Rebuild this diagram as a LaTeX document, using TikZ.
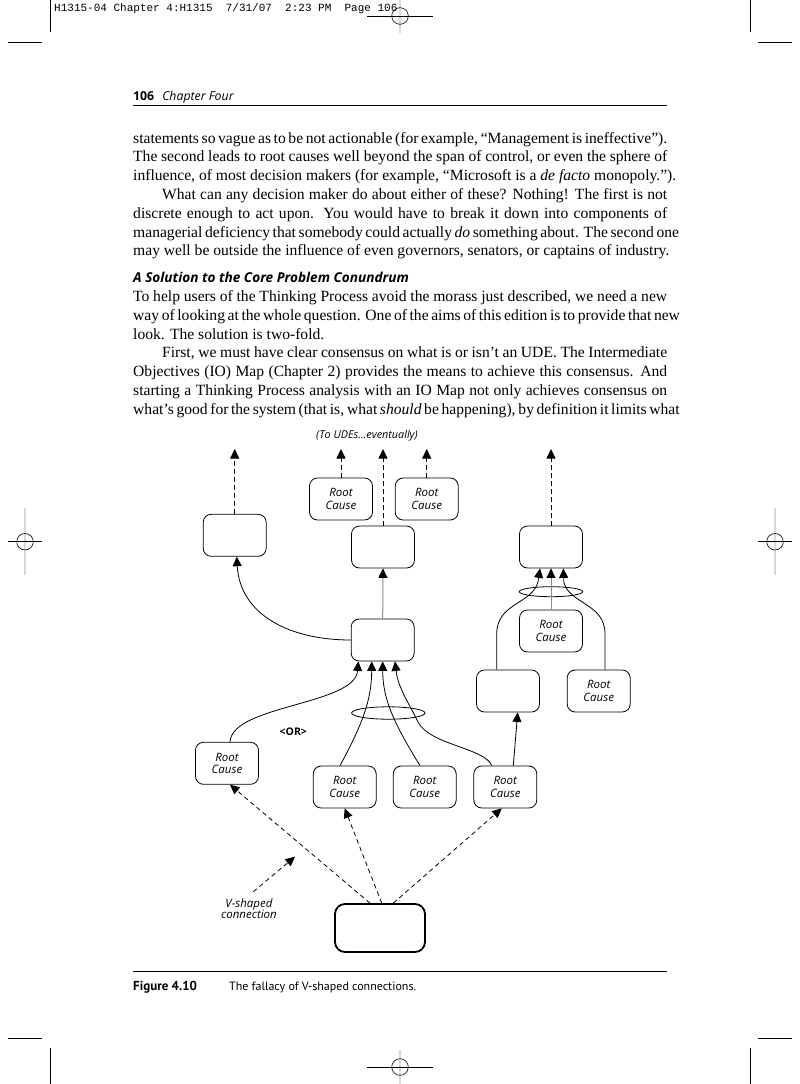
\documentclass[tikz,border=0pt]{standalone}
\usepackage{fontspec}
\setmainfont{Liberation Serif}
\newfontfamily\dsans{Open Sans}
\newfontfamily\capsans{PT Sans}
\newfontfamily\slugmono{Liberation Mono}
\usetikzlibrary{arrows.meta,calc,shapes.geometric}
\tikzset{
  >={Triangle[length=9.5pt,width=9pt]},
  box/.style={draw, rounded corners=8pt, minimum width=63pt, minimum height=42pt,
    line width=0.8pt, inner sep=0pt, align=center,
    font=\dsans\itshape\fontsize{11.5}{12.5}\selectfont},
  bigbox/.style={box, minimum width=90pt, minimum height=48pt, line width=1.8pt, rounded corners=10pt},
  andell/.style={draw, ellipse, line width=0.8pt, inner sep=0pt},
  conn/.style={line width=0.8pt},
  dconn/.style={line width=0.8pt, dash pattern=on 4.5pt off 3.5pt},
  gconn/.style={line width=1pt, draw=black!45},
  bodyline/.style={anchor=base west, inner sep=0pt, font=\fontsize{15.6}{18}\selectfont},
  crop/.style={line width=0.8pt},
  regline/.style={line width=1.6pt, draw=black!15},
  regmark/.style={line width=0.6pt},
}
\newcommand{\jline}[1]{\makebox[534pt][s]{#1}}
\newcommand{\jlineind}[1]{\makebox[505pt][s]{#1}}
\begin{document}
\begin{tikzpicture}[x=1pt,y=-1pt]
\useasboundingbox (0,0) rectangle (800,1084);
\fill[white] (0,0) rectangle (800,1084);

% ---- crop and registration marks ----
\draw[crop] (50,0) -- (50,32);
\draw[crop] (750,0) -- (750,32);
\draw[crop] (8,42) -- (42,42);
\draw[crop] (758,42) -- (792,42);
\draw[crop] (8,1038) -- (42,1038);
\draw[crop] (758,1038) -- (792,1038);
\draw[crop] (50,1048) -- (50,1084);
\draw[crop] (750,1048) -- (750,1084);
% registration
\draw[regline] (400,0) -- (400,33);
\draw[regmark] (367,16) -- (433,16);
\draw[regmark] (400,16) circle (8.3);
\draw[regline] (400,1050) -- (400,1084);
\draw[regmark] (367,1067) -- (433,1067);
\draw[regmark] (400,1067) circle (8.3);
\draw[regline] (25,508) -- (25,575);
\draw[regmark] (8,541.7) -- (42,541.7);
\draw[regmark] (25,541.7) circle (8.3);
\draw[regline] (775,508) -- (775,575);
\draw[regmark] (758,541.7) -- (792,541.7);
\draw[regmark] (775,541.7) circle (8.3);

% slug line
\node[anchor=base west, inner sep=0pt, font=\slugmono\fontsize{11}{12}\selectfont] (slug) at (54,12)
  {H1315-04 Chapter 4:H1315\ \ 7/31/07\ \ 2:23 PM\ \ Page 106};

% ---- running head ----
\node[anchor=base west, inner sep=0pt, font=\dsans\fontsize{12.3}{14}\selectfont] (rh) at (133,100)
  {\textbf{106}\hspace{8pt}\textit{Chapter Four}};
\draw[line width=0.9pt] (133,105) -- (667,105);

% ---- body text ----
\node[bodyline] (t1) at (133,143) {\jline{statements so vague as to be not actionable (for example, “Management is ineffective”).}};
\node[bodyline] (t2) at (133,161.8) {\jline{The second leads to root causes well beyond the span of control, or even the sphere of}};
\node[bodyline] (t3) at (133,180.6) {influence, of most decision makers (for example, “Microsoft is a \textit{de facto} monopoly.”).};
\node[bodyline] (t4) at (162,199.4) {\jlineind{What can any decision maker do about either of these? Nothing! The first is not}};
\node[bodyline] (t5) at (133,218.2) {\jline{discrete enough to act upon. You would have to break it down into components of}};
\node[bodyline] (t6) at (133,237) {\jline{managerial deficiency that somebody could actually \textit{do} something about. The second one}};
\node[bodyline] (t7) at (133,255.8) {may well be outside the influence of even governors, senators, or captains of industry.};
\node[anchor=base west, inner sep=0pt, font=\dsans\bfseries\itshape\fontsize{13.6}{15}\selectfont] (hd) at (133,282.6)
  {A Solution to the Core Problem Conundrum};
\node[bodyline] (t8) at (133,301.4) {\jline{To help users of the Thinking Process avoid the morass just described, we need a new}};
\node[bodyline] (t9) at (133,320.2) {\jline{way of looking at the whole question. One of the aims of this edition is to provide that new}};
\node[bodyline] (t10) at (133,339) {look. The solution is two-fold.};
\node[bodyline] (t11) at (162,357.8) {\jlineind{First, we must have clear consensus on what is or isn’t an UDE. The Intermediate}};
\node[bodyline] (t12) at (133,376.6) {\jline{Objectives (IO) Map (Chapter 2) provides the means to achieve this consensus. And}};
\node[bodyline] (t13) at (133,395.4) {\jline{starting a Thinking Process analysis with an IO Map not only achieves consensus on}};
\node[bodyline] (t14) at (133,414.2) {\jline{what’s good for the system (that is, what \textit{should} be happening), by definition it limits what}};

% ---- diagram ----
\node[font=\dsans\itshape\fontsize{10.8}{12}\selectfont, inner sep=0pt] (lbl) at (367,435.5) {(To UDEs...eventually)};

\node[box] (L1) at (234.7,535.3) {};
\node[box] (RC1) at (341,499) {Root\\Cause};
\node[box] (RC2) at (426.7,499) {Root\\Cause};
\node[box] (M1) at (383,547) {};
\node[box] (R1) at (551,547) {};
\node[andell, minimum width=63.4pt, minimum height=10pt] (E1) at (551,591.7) {};
\node[box] (RC3) at (551,631) {Root\\Cause};
\node[box] (M2) at (382.7,640) {};
\node[box] (R2) at (508,691) {};
\node[box] (RC5) at (598.7,691) {Root\\Cause};
\node[andell, minimum width=73.4pt, minimum height=12.4pt] (E2) at (388.3,713) {};
\node[box] (RCL) at (227,763.3) {Root\\Cause};
\node[box] (RCA) at (344.7,787) {Root\\Cause};
\node[box] (RCB) at (424.7,787) {Root\\Cause};
\node[box] (RCC) at (505.3,787) {Root\\Cause};
\node[bigbox] (B) at (380,928) {};
\node[font=\dsans\bfseries\fontsize{10.5}{12}\selectfont, inner sep=0pt] (orl) at (293.3,731.7) {<OR>};
\node[font=\dsans\itshape\fontsize{11.5}{11.5}\selectfont, align=center, inner sep=0pt] (vl) at (249,908.5) {V-shaped\\connection};

% free arrow ends at top
\coordinate (uL) at (234.7,449);
\coordinate (uRC1) at (341,449);
\coordinate (uM1) at (383,449);
\coordinate (uRC2) at (426.7,449);
\coordinate (uR1) at (551,449);
\draw[dconn,->] (L1.north) -- (uL);
\draw[dconn,->] (RC1.north) -- (uRC1);
\draw[dconn,->] (M1.north) -- (uM1);
\draw[dconn,->] (RC2.north) -- (uRC2);
\draw[dconn,->] (R1.north) -- (uR1);

% M2 -> L1 curve
\draw[conn,->] (M2.west) .. controls (290,640) and (240,615) .. (L1.south -| 236.7,0);
% M2 -> M1
\draw[gconn,-{Triangle[length=9.5pt,width=9pt,color=black]}] (M2.north) -- (M1.south);

% into M2
\draw[conn,->] (RCL.north -| 230,0) .. controls (232,705) and (355,705) .. (M2.south -| 358.3,0);
\draw[conn,->] (RCA.north -| 340,0) .. controls (362,725) and (371.7,700) .. (M2.south -| 371.7,0);
\draw[conn,->] (RCB.north -| 420,0) .. controls (395,725) and (382.7,700) .. (M2.south -| 382.7,0);
\draw[conn,->] (RCC.north -| 491.7,0) .. controls (485,748) and (430,745) .. (418,722)
   .. controls (410,705) and (398,688) .. (M2.south -| 395,0);

% RCC -> R2
\draw[conn,->] (RCC.north -| 513.3,0) -- (R2.south -| 517.7,0);

% into R1 (AND via E1)
\draw[conn,->] (R2.north -| 496.7,0) -- (496.7,634) .. controls (496.7,603) and (532,604) .. (538,582) -- (R1.south -| 540,0);
\draw[gconn,-{Triangle[length=9.5pt,width=9pt,color=black]}] (RC3.north) -- (R1.south);
\draw[conn,->] (RC5.north -| 605,0) -- (605,634) .. controls (605,603) and (569,604) .. (563.8,582) -- (R1.south -| 563.3,0);

% V-shaped dashed arrows from B
\draw[dconn,->] (B.north -| 370,0) -- (RCL.south -| 230,0);
\draw[dconn,->] (B.north -| 381.7,0) -- (RCA.south);
\draw[dconn,->] (B.north -| 393.3,0) -- (RCC.south -| 501.7,0);
\coordinate (vs) at (253.3,891.7);
\coordinate (ve) at (295,856.7);
\draw[dconn,->] (vs) -- (ve);

% ---- caption ----
\draw[line width=0.9pt] (133,971) -- (667,971);
\node[anchor=base west, inner sep=0pt, font=\capsans\fontsize{13}{14}\selectfont] (capa) at (133,990)
  {\textbf{Figure 4.10}};
\node[anchor=base west, inner sep=0pt, font=\capsans\fontsize{12}{14}\selectfont] (capb) at (229,990)
  {The fallacy of V-shaped connections.};
\end{tikzpicture}
\end{document}
